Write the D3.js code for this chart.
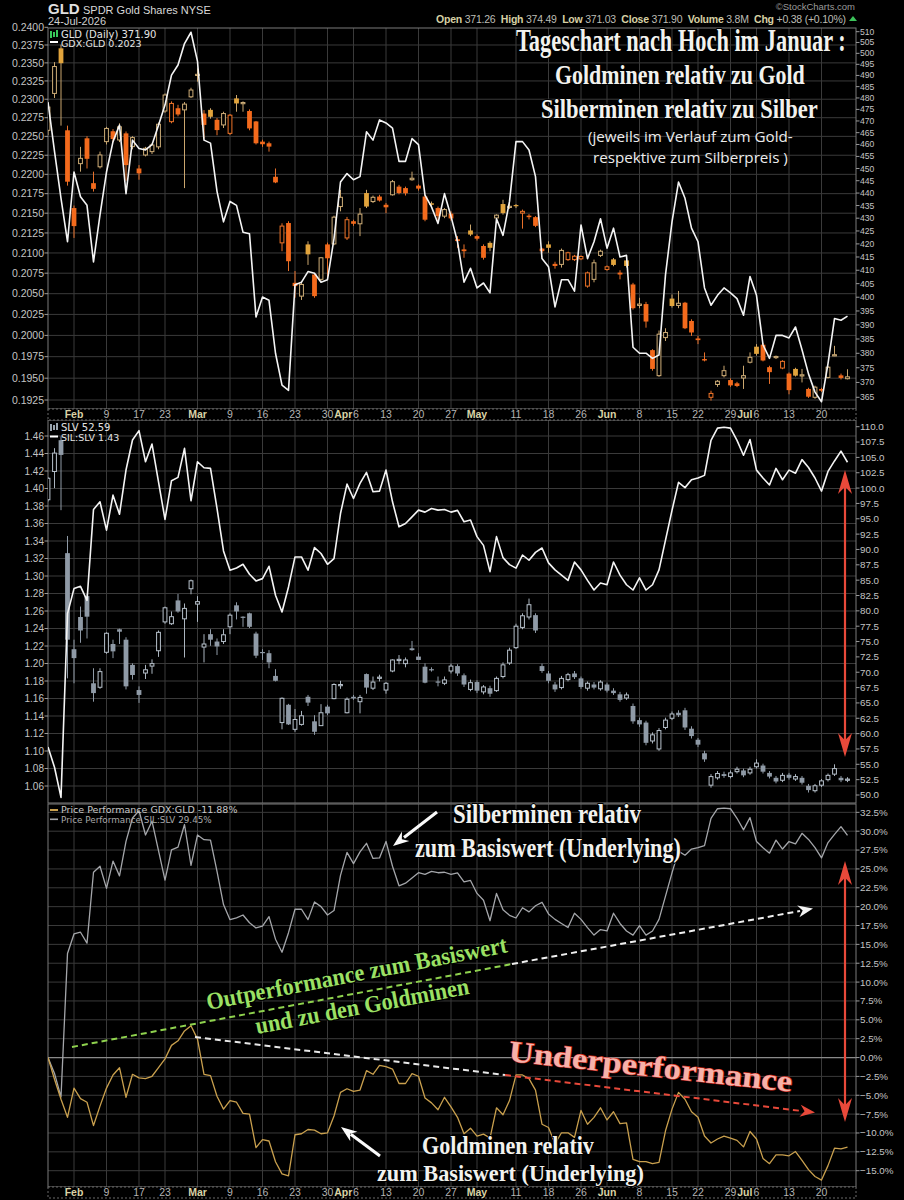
<!DOCTYPE html>
<html><head><meta charset="utf-8">
<script src="https://cdn.jsdelivr.net/npm/d3@7"></script>
<style>body{margin:0;background:#000;}svg{display:block;}</style>
</head><body>
<svg id="c" width="904" height="1200"></svg>
<script>
// ---------------- DATA ----------------
const holidays = ['2026-02-16','2026-04-03','2026-05-25','2026-06-19','2026-07-03'];
const firstDay = '2026-01-27', lastDay = '2026-07-24';

// GDX:GLD ratio (daily close), one value per trading day
const gdxGld = [0.2296,0.2230,0.2169,0.2114,
 0.2203,0.2171,0.2160,0.2089,0.2148,0.2203,0.2243,0.2265,0.2175,0.2245,0.2234,0.2232,0.2239,0.2265,0.2292,0.2333,0.2347,0.2377,0.2393,
 0.2352,0.2245,0.2241,0.2178,0.2139,0.2165,0.2160,0.2126,0.2124,0.2022,0.2046,0.2042,0.1979,0.1942,0.1936,0.2061,0.2064,0.2077,0.2075,
 0.2064,0.2067,0.2118,0.2190,0.2201,0.2193,0.2197,0.2256,0.2245,0.2272,0.2268,0.2261,0.2217,0.2217,0.2247,0.2239,0.2173,0.2158,0.2137,
 0.2175,0.2146,0.2114,0.2064,0.2081,0.2057,0.2063,0.2051,0.2143,0.2122,0.2165,0.2243,0.2243,0.2232,0.2197,0.2093,0.2083,0.2034,0.2067,
 0.2067,0.2053,0.2135,0.2093,0.2114,0.2143,0.2106,0.2131,0.2095,0.2097,0.1986,0.1979,0.1979,0.1973,0.1977,0.2073,0.2139,0.2190,0.2169,
 0.2131,0.2114,0.2057,0.2036,0.2048,0.2057,0.2051,0.2044,0.2024,0.2071,0.2048,0.1989,0.1973,0.2000,0.2000,0.1997,0.2010,0.1983,0.1955,
 0.1934,0.1923,0.1967,0.2020,0.2018,0.2023];

// SIL:SLV ratio (daily close)
const silSlv = [1.1047,1.0814,1.047,1.257,
 1.2856,1.2882,1.2722,1.376,1.3848,1.3524,1.3924,1.3707,1.4211,1.4554,1.4661,1.4306,1.4508,1.4077,1.3646,1.4089,1.4127,1.4459,1.386,
 1.4306,1.4237,1.423,1.3772,1.3287,1.3066,1.3092,1.3134,1.302,1.2944,1.297,1.3111,1.278,1.2589,1.2875,1.3218,1.3218,1.3066,1.3325,
 1.3257,1.3134,1.3199,1.3714,1.405,1.3886,1.4058,1.4184,1.3963,1.397,1.4211,1.3848,1.3562,1.36,1.3676,1.3753,1.373,1.3772,1.3753,
 1.376,1.373,1.375,1.362,1.364,1.345,1.335,1.305,1.345,1.321,1.313,1.309,1.324,1.318,1.327,1.332,1.315,1.307,1.301,
 1.295,1.316,1.307,1.295,1.284,1.292,1.290,1.316,1.301,1.290,1.284,1.298,1.284,1.290,1.307,1.341,1.375,1.407,1.401,
 1.410,1.412,1.415,1.455,1.469,1.470,1.469,1.455,1.438,1.456,1.421,1.412,1.404,1.423,1.410,1.421,1.4175,1.433,1.424,
 1.412,1.397,1.4195,1.4315,1.4427,1.43];

// GLD daily candles [open, high, low, close]
const gldOHLC = [
[466,478,464,476],[482,496,480,494],[502.3,504,468,495.5],[466,468,443,444.6],
[434,435,422.3,426.9],[452,459,448.7,454.2],[462.6,463.5,450,454],[444,448.7,440.6,441.7],[450.7,457,450,455.6],
[461.2,467.5,460,466.8],[465.6,466.5,461,462.3],[461.9,469,461,467.5],[464.7,465.5,445,451.4],[459.1,463.5,458,462.9],
[450,451.4,445.4,448],[455.6,459,455,458.4],[457,460.5,456,459.8],[459,469.3,458,468.6],[474.3,482,473.5,481.3],
[469.7,478.5,469,477.6],[475.5,477,472,472.8],[474.8,478.2,442,477.3],[480.5,484.5,480,483.5],[490.2,493.2,487.2,490.5],
[473.2,474.7,462.6,468.3],[474.8,475.5,471,471.8],[470.5,471.3,463.9,466.1],[468.3,474,467,473.2],[464.7,473,464,472.5],
[479.8,481.3,474,477.6],[477.5,478.5,474,478],[474.3,475,466,466.8],[469.8,470,460,460.5],[461.2,462,459,460.1],
[460.5,461.2,457,459.1],[446.6,450,444,444.3],[420.4,428,417.2,426.9],[428.1,428.8,409.7,413.4],[405.3,409.7,399.8,404.1],
[400.4,405.3,399,404.7],[419.8,421,412,416],[408.4,409,399.8,400.4],[406.6,415,406,414.7],[419.8,420.5,407.2,414.5],
[420,431,419.5,430.4],[434.6,441.3,432.7,438.3],[422.3,430.5,421.5,429.4],[428.8,429.4,427,427.8],[427.8,434,423,431.6],
[440,441.3,434,434.6],[436.6,439,436,438.3],[438.6,439.3,436.6,437],[435.3,436,432,434.3],[439.3,445.3,439,444.6],
[442.6,443.3,439.5,440],[442,442.6,439,439.9],[445.4,448.7,445,446],[443,443.5,441,441.8],[438.6,439.3,428.8,429.4],
[435.9,436.6,434.6,435.3],[434,434.6,428.1,430.8],[430.8,434,430,433.4],[431.8,432.7,429,429.9],[421.8,423,418.5,421.1],
[417.9,419.8,414.7,417.2],[425.2,427.5,423,423.6],[423,423.6,421.3,422],[419.2,419.8,414,414.7],[420.4,421,417.2,418.5],
[430.1,431.5,429.6,431.2],[435.6,437.3,431.4,432],[434.3,436,433.7,434.7],[435.2,435.6,434,434.8],[432,433.4,425.9,432.7],
[431,431.6,429.5,430.4],[430.4,430.8,426.5,427],[418.2,418.5,416.5,417.2],[419.8,421,416.6,418.5],[412.4,413.2,410.6,411.6],
[412.2,418.2,411,417.5],[414,417,413.5,416.6],[414,415.8,413.5,415.3],[414.3,415.6,413.8,415.2],[404.1,409.5,403.5,409],
[406.6,414,405.5,412.8],[415.6,417.8,415,417.2],[410.3,411.8,409.8,411.3],[414.1,414.6,411.5,412],[409.1,410,406.6,408.4],
[413.7,414.2,411,411.6],[404.7,405.3,395.5,396],[397,399.8,396,397.5],[397.5,398.3,389,391.2],[381.1,381.4,374,374.6],
[372.3,388,371.9,386.7],[385.5,388.8,384.3,387.3],[399.5,401,396.2,396.8],[397,402.3,396,397.8],[398,398.3,388.5,388.8],
[391.4,392,386.1,387.3],[385.2,386.1,383.2,384.6],[378,380.3,377.2,377.5],[365,367.2,363.9,366.3],[369.3,370.8,368.5,370.4],
[372.3,375.7,371.7,374],[370.8,371.4,368.5,369],[369.7,370.2,368.4,368.8],[371.5,375.7,367.8,372.3],[376.9,380.3,376.5,378.6],
[382.3,383.2,379.2,379.8],[383,383.5,377.2,377.5],[375.2,375.7,369.5,373.5],[378.5,379.2,378,378.9],[374.9,377.6,374.5,377.2],
[373,373.4,366,367.4],[374.6,375,372,372.3],[372.3,374.6,370,372.6],[367.8,368.2,364.8,365.2],[365,368.9,364.5,368.4],
[367.8,368.2,366.8,367.2],[371.7,375.6,371.3,375.2],[379.2,382.6,379,379.5],[372.4,373,371,371.52],[371.26,374.49,371.03,371.9]];

// SLV daily candles [open, high, low, close]
const slvOHLC = [
[98.1,101.8,97.8,101.6],[102.7,106.5,100,105.7],[107.8,108.4,96.4,105.4],[89.4,92.2,69,75.3],
[73.75,75.3,68.2,72.3],[79,80.7,74.8,76.8],[82.4,82.75,75.5,79.05],[68.2,70.65,65.2,66.6],[67.55,70.65,67.3,70.1],
[73.25,76.5,73,76.35],[74.6,75.3,72.3,73.4],[77,77.1,74.6,76.6],[75.3,75.7,67.2,67.7],[71.2,71.45,68.8,69.55],
[67.1,67.7,65,66.3],[69.87,71.2,68.9,70.4],[71,72.1,69.75,71.4],[73.5,76.8,72.5,76.5],[78.2,80.7,77.9,80.5],
[77.9,79.9,77.7,79.05],[81.7,82.75,79.7,79.9],[78.7,81.2,72.4,80.4],[83.6,85.1,82.7,84.9],[81.1,82.4,78.2,81.5],
[74.1,76.2,71.6,74.6],[76.2,77,74.3,75.3],[75,75.5,72.8,74.2],[75,77,74.6,76.1],[77.4,79.6,76.2,79.3],
[80.9,81.4,78.6,79.9],[79.05,79.1,77.4,78.9],[79.6,79.7,77.2,77.4],[76.3,76.6,72.3,72.7],[73.3,73.75,72,73.1],
[73.1,73.6,70.65,71.6],[69.4,70.5,68.5,68.6],[61.8,65.9,60.7,65.75],[64.7,64.85,61.4,61.5],[60.7,64,60.3,62.3],
[61.5,63.7,61.3,62.9],[66,66.3,64.5,65.05],[62,63,59.8,60.3],[61.3,64.8,61.3,63.4],[64.4,64.7,63,63.3],
[65.7,68.2,65.6,68],[67.8,68.6,67.3,68.0],[63.4,65.9,63.3,65.6],[66,66.3,65.5,65.75],[65.2,66.3,63.3,65.9],
[69.7,69.8,66.5,67.5],[67.4,69.3,67.1,68.4],[69,69.6,68.5,69.2],[67.1,68.4,66.5,68.2],[70.2,72.1,70,72],
[71.9,72.8,71.3,72.1],[71.4,72.4,70.8,72],[73.9,75.1,73.5,73.6],[72.55,73.1,72,72],[70.9,71.45,68.2,68.3],
[70.5,70.8,70.1,70.3],[68.5,69.3,67.7,68.3],[68.2,69.3,67.9,68.75],[70.2,71.4,69.8,71.0],[71.0,71.3,69.4,69.8],
[69.5,69.8,67.6,68.0],[67.2,68.8,66.9,68.3],[68.4,68.7,66.6,67.0],[66.8,67.9,66.4,67.6],[67.4,67.8,66.0,66.5],
[67.0,69.3,66.8,69.0],[69.3,71.6,69.0,71.2],[71.5,74.0,71.2,73.6],[74.0,77.9,73.8,77.5],[77.3,79.6,77.0,79.2],
[79.0,82.0,78.6,81.0],[79.3,79.6,76.4,76.8],[71.0,71.4,69.9,70.2],[69.8,70.2,68.2,68.6],[68.0,68.4,66.8,67.2],
[67.5,69.4,67.2,69.0],[68.8,69.9,68.5,69.6],[69.8,70.2,68.9,69.2],[69.0,69.3,67.3,67.6],[67.4,68.5,67.0,68.2],
[68.0,68.4,67.2,67.5],[67.3,68.7,67.0,68.4],[68.0,68.3,66.7,67.0],[67.0,67.4,66.3,66.6],[66.4,66.8,65.2,65.5],
[65.8,66.7,65.5,66.3],[64.5,64.9,61.6,62.0],[62.2,62.6,61.1,61.5],[61.8,62.1,58.1,58.5],[58.8,60.2,58.4,59.8],
[57.5,60.9,57.2,60.5],[61.0,62.6,60.7,62.2],[62.5,63.6,62.2,63.2],[63.4,63.8,62.7,63.0],[63.8,64.2,60.6,61.0],
[60.8,61.2,59.2,59.6],[59.0,59.3,57.8,58.2],[56.8,57.2,55.4,55.8],[51.6,53.4,51.2,53.0],[52.8,53.9,52.5,53.5],
[53.4,53.8,52.8,53.1],[53.0,54.0,52.7,53.6],[53.8,54.6,53.5,54.2],[54.0,54.3,52.9,53.2],[53.6,54.6,53.3,54.2],
[54.6,55.8,54.3,55.2],[54.8,55.1,53.5,53.8],[53.6,53.9,52.7,53.0],[52.8,53.1,51.9,52.2],[52.4,53.6,52.1,53.2],
[53.3,53.6,52.5,52.8],[52.6,53.4,52.3,53.0],[52.8,53.1,51.7,52.0],[51.5,51.8,50.4,50.8],[50.7,51.8,50.4,51.5],
[51.6,52.6,51.3,52.3],[52.5,53.5,52.2,53.2],[53.4,55.0,53.1,54.3],[52.8,53.1,52.1,52.4],[52.4,52.9,52.1,52.59]];

// tick labels
const p1LeftTicks = [0.1925,0.1950,0.1975,0.2000,0.2025,0.2050,0.2075,0.2100,0.2125,0.2150,0.2175,0.2200,0.2225,0.2250,0.2275,0.2300,0.2325,0.2350,0.2375,0.2400];
const p1RightTicks = [365,370,375,380,385,390,395,400,405,410,415,420,425,430,435,440,445,450,455,460,465,470,475,480,485,490,495,500,505,510];
const p2LeftTicks = [1.06,1.08,1.10,1.12,1.14,1.16,1.18,1.20,1.22,1.24,1.26,1.28,1.30,1.32,1.34,1.36,1.38,1.40,1.42,1.44,1.46];
const p2RightTicks = [50,52.5,55,57.5,60,62.5,65,67.5,70,72.5,75,77.5,80,82.5,85,87.5,90,92.5,95,97.5,100,102.5,105,107.5,110];
const p3Ticks = [-15,-12.5,-10,-7.5,-5,-2.5,0,2.5,5,7.5,10,12.5,15,17.5,20,22.5,25,27.5,30,32.5];
const xTicks = [
 ['2026-02-02','Feb',1],['2026-02-09','9',0],['2026-02-17','17',0],['2026-02-23','23',0],
 ['2026-03-02','Mar',1],['2026-03-09','9',0],['2026-03-16','16',0],['2026-03-23','23',0],['2026-03-30','30',0],
 ['2026-04-01','Apr',1],['2026-04-06','6',0],['2026-04-13','13',0],['2026-04-20','20',0],['2026-04-27','27',0],
 ['2026-05-01','May',1],['2026-05-11','11',0],['2026-05-18','18',0],['2026-05-26','26',0],
 ['2026-06-01','Jun',1],['2026-06-08','8',0],['2026-06-15','15',0],['2026-06-22','22',0],['2026-06-29','29',0],
 ['2026-07-01','Jul',1],['2026-07-06','6',0],['2026-07-13','13',0],['2026-07-20','20',0]];

// ---------------- BUILD ----------------
function tradingDays(a,b){const out=[];const d=new Date(a+'T12:00:00Z');const e=new Date(b+'T12:00:00Z');
 while(d<=e){const wd=d.getUTCDay();const s=d.toISOString().slice(0,10);if(wd>0&&wd<6&&!holidays.includes(s))out.push(s);d.setUTCDate(d.getUTCDate()+1);}return out;}
const dates = tradingDays(firstDay,lastDay);

const svg = d3.select('#c');
const W=904, L=48, R=856;
const P1={top:28,bot:409}, P2={top:420,bot:803}, P3={top:804,bot:1187};
const x = d3.scalePoint().domain(dates).range([48,847.5]);
const y1L = d3.scaleLog().domain([0.2400,0.1925]).range([27.3,400]);
const y1R = d3.scaleLog().domain([510,365]).range([31.7,397.3]);
const y2L = d3.scaleLinear().domain([1.46,1.06]).range([436,786]);
const y2R = d3.scaleLinear().domain([110,50]).range([426.7,795]);
const y3  = d3.scaleLinear().domain([30,-15]).range([831.2,1170.7]);

const perfG = gdxGld.map(v=>(v/gdxGld[0]-1)*100);
const perfS = silSlv.map(v=>(v/silSlv[0]-1)*100);

svg.append('rect').attr('width',W).attr('height',1200).attr('fill','#000');
const defs = svg.append('defs');
[['c1',P1],['c2',P2],['c3',P3]].forEach(([id,p])=>{
 defs.append('clipPath').attr('id',id).append('rect').attr('x',L).attr('y',p.top).attr('width',R-L).attr('height',p.bot-p.top);});

const GRID='#3a3a3a', AX='#c4c4c4', FONT='"Liberation Sans", Arial, sans-serif';

function vgrid(p){
 const g=svg.append('g');
 xTicks.forEach(t=>{
  if(t[2]===1){
   const i=dates.indexOf(t[0]);
   const near=xTicks.some(u=>u[2]===0&&Math.abs(dates.indexOf(u[0])-i)<=2);
   if(near) return;}
  g.append('line').attr('x1',x(t[0])).attr('x2',x(t[0])).attr('y1',p.top).attr('y2',p.bot).attr('stroke',GRID).attr('stroke-width',1);
 });
}
function hgrid(p,ticks,sc){
 const g=svg.append('g');
 ticks.forEach(v=>{const yy=sc(v); if(yy<p.top||yy>p.bot)return;
  g.append('line').attr('x1',L).attr('x2',R).attr('y1',yy).attr('y2',yy).attr('stroke',GRID);});
}
vgrid(P1);vgrid(P2);vgrid(P3);
hgrid(P1,p1LeftTicks,y1L);hgrid(P2,p2LeftTicks,y2L);hgrid(P3,p3Ticks,y3);
svg.append('line').attr('x1',L).attr('x2',R).attr('y1',y3(0)).attr('y2',y3(0)).attr('stroke','#8a8a8a').attr('stroke-width',1.2);

[P1,P2,P3].forEach(p=>svg.append('rect').attr('x',L).attr('y',p.top).attr('width',R-L).attr('height',p.bot-p.top)
 .attr('fill','none').attr('stroke','#7a7a7a').attr('stroke-width',1));

function leftAxis(ticks,sc,fmt,p,fs){
 const g=svg.append('g').attr('font-family',FONT).attr('font-size',fs).attr('fill',AX);
 ticks.forEach(v=>{const yy=sc(v); if(yy<p.top-2||yy>p.bot+2)return;
  g.append('text').attr('x',44).attr('y',yy+fs*0.35).attr('text-anchor','end').text(fmt(v));
  g.append('line').attr('x1',44.5).attr('x2',L).attr('y1',yy).attr('y2',yy).attr('stroke','#999');});
}
function rightAxis(ticks,sc,fmt,p,fs){
 const g=svg.append('g').attr('font-family',FONT).attr('font-size',fs).attr('fill',AX);
 ticks.forEach(v=>{const yy=sc(v); if(yy<p.top-6||yy>p.bot+2)return;
  g.append('text').attr('x',860).attr('y',yy+fs*0.35).attr('text-anchor','start').text(fmt(v));
  g.append('line').attr('x1',R).attr('x2',R+3.5).attr('y1',yy).attr('y2',yy).attr('stroke','#999');});
}
leftAxis(p1LeftTicks,y1L,d3.format('.4f'),P1,10.5);
rightAxis(p1RightTicks,y1R,d3.format('d'),P1,8.6);
leftAxis(p2LeftTicks,y2L,d3.format('.2f'),P2,10);
rightAxis(p2RightTicks,y2R,d3.format('.1f'),P2,9.8);
rightAxis(p3Ticks,y3,v=>d3.format('.1f')(v)+'%',P3,9.8);

function dateBand(top,bot){
 svg.append('rect').attr('x',L).attr('y',top).attr('width',R-L).attr('height',bot-top).attr('fill','#000')
  .attr('stroke','#6a6a6a').attr('stroke-dasharray','2,2');
 const g=svg.append('g').attr('font-family',FONT).attr('font-size',10.5);
 let prevRight=-1e9;
 xTicks.forEach(t=>{
  const txt=g.append('text').attr('y',bot-2).attr('fill',t[2]?'#d9d3a6':'#b4b4b4').attr('font-weight',t[2]?'bold':'normal').text(t[1]);
  const w=txt.node().getComputedTextLength();
  let x0=x(t[0])-w/2;
  if(x0<prevRight+0.8) x0=prevRight+0.8;
  txt.attr('x',x0);
  prevRight=x0+w;
 });
}
dateBand(409,420);
dateBand(1187,1198);

function candles(data,ys,clip,style){
 const g=svg.append('g').attr('clip-path',`url(#${clip})`);
 const bw=4.8;
 data.forEach((d,i)=>{
  const [o,h,l,c]=d; const prev=i>0?data[i-1][3]:o;
  const up=c>=prev; const hollow=c>=o;
  const col=style(up,hollow);
  const cx=x(dates[i]);
  const yt=ys(Math.max(o,c)), yb=ys(Math.min(o,c));
  g.append('line').attr('x1',cx).attr('x2',cx).attr('y1',ys(h)).attr('y2',ys(l)).attr('stroke',col.wick).attr('stroke-width',1);
  const hh=Math.max(yb-yt,1.2);
  if(hollow){
   g.append('rect').attr('x',cx-bw/2+0.5).attr('y',yt).attr('width',bw-1).attr('height',hh).attr('fill','#000').attr('stroke',col.stroke).attr('stroke-width',1);
  } else {
   g.append('rect').attr('x',cx-bw/2).attr('y',yt).attr('width',bw).attr('height',hh).attr('fill',col.fill);
  }
 });
}
candles(gldOHLC,y1R,'c1',(up)=>up?{wick:'#caa66e',stroke:'#cfae78',fill:'#e2a43c'}:{wick:'#e8702a',stroke:'#ef7428',fill:'#f36a1c'});
candles(slvOHLC,y2R,'c2',(up,hollow)=>hollow?{wick:'#aab4be',stroke:'#b8c2cc',fill:'#8f9aa6'}:{wick:'#8f9aa6',stroke:'#b8c2cc',fill:'#8f9aa6'});

function line(vals,ys,clip,col,w){
 const gen=d3.line().x((v,i)=>x(dates[i])).y(v=>ys(v));
 svg.append('path').attr('clip-path',`url(#${clip})`).attr('d',gen(vals)).attr('fill','none').attr('stroke',col).attr('stroke-width',w).attr('stroke-linejoin','round');
}
line(gdxGld,y1L,'c1','#f4f4f4',1.6);
line(silSlv,y2L,'c2','#f4f4f4',1.6);
line(perfS,y3,'c3','#a4a6aa',1.3);
line(perfG,y3,'c3','#c9a04e',1.3);

const hd=svg.append('g').attr('font-family',FONT);
hd.append('text').attr('x',48).attr('y',14).attr('font-size',15).attr('font-weight','bold').attr('fill','#e0e0e0').text('GLD');
hd.append('text').attr('x',83).attr('y',13.5).attr('font-size',11).attr('fill','#d8d8d8').text('SPDR Gold Shares NYSE');
hd.append('text').attr('x',48).attr('y',25).attr('font-size',11).attr('fill','#d0d0d0').text('24-Jul-2026');
hd.append('text').attr('x',855).attr('y',10).attr('font-size',9.5).attr('text-anchor','end').attr('fill','#9a9a9a').text('©StockCharts.com');
const ohlc=hd.append('text').attr('x',436).attr('y',22.5).attr('font-size',10.5);
[['Open ',1],['371.26  ',0],['High ',1],['374.49  ',0],['Low ',1],['371.03  ',0],['Close ',1],['371.90  ',0],['Volume ',1],['3.8M  ',0],['Chg ',1],['+0.38 (+0.10%)',0]]
 .forEach(([t,b])=>ohlc.append('tspan').attr('fill',b?'#d6d0a4':'#bdbdb5').attr('font-weight',b?'bold':'normal').attr('xml:space','preserve').text(t));
ohlc.attr('textLength',410).attr('lengthAdjust','spacing');
hd.append('path').attr('d','M849,21 L853,16 L857,21 Z').attr('fill','#3cc35a');

const lg=svg.append('g').attr('font-family','"DejaVu Sans", sans-serif').attr('font-size',10).attr('fill','#e4e4e4');
function icon(x0,y0,col){lg.append('rect').attr('x',x0).attr('y',y0-7).attr('width',2).attr('height',7).attr('fill',col);
 lg.append('rect').attr('x',x0+3).attr('y',y0-6).attr('width',2).attr('height',5).attr('fill',col);
 lg.append('rect').attr('x',x0+6).attr('y',y0-8).attr('width',2).attr('height',7).attr('fill',col);}
icon(50,38,'#38c85a');
lg.append('text').attr('x',61).attr('y',37.5).text('GLD (Daily) 371.90');
lg.append('rect').attr('x',50).attr('y',41).attr('width',8).attr('height',2).attr('fill','#fff');
lg.append('text').attr('x',61).attr('y',46.5).attr('font-size',9.5).text('GDX:GLD 0.2023');
icon(50,431,'#9aa4ae');
lg.append('text').attr('x',61).attr('y',431).text('SLV 52.59');
lg.append('rect').attr('x',50).attr('y',435.5).attr('width',8).attr('height',2).attr('fill','#fff');
lg.append('text').attr('x',61).attr('y',440.5).attr('font-size',9.5).text('SIL:SLV 1.43');
lg.append('rect').attr('x',50).attr('y',809).attr('width',8).attr('height',2).attr('fill','#c9a04e');
lg.append('text').attr('x',61).attr('y',813).attr('font-size',9.5).attr('fill','#c8c8c8').text('Price Performance GDX:GLD -11.88%');
lg.append('rect').attr('x',50).attr('y',818.5).attr('width',8).attr('height',1.6).attr('fill','#a4a6aa');
lg.append('text').attr('x',61).attr('y',823).attr('font-size',8.8).attr('fill','#a8a8a8').text('Price Performance SIL:SLV 29.45%');

const SERIF='"Liberation Serif","DejaVu Serif",serif', SANS='"Open Sans","Noto Sans",sans-serif';
const an=svg.append('g');
function ttl(t,x0,y0,len,fs,col,opt={}){
 const g=an.append('g');
 const e=g.append('text').attr('x',0).attr('y',0).attr('font-family',opt.fam||SERIF).attr('font-size',fs)
  .attr('font-weight',opt.w||'bold').attr('fill',col)
  .attr('stroke',opt.stroke||'#000').attr('stroke-width',opt.sw===undefined?2:opt.sw).attr('paint-order','stroke').text(t);
 const nat=e.node().getComputedTextLength();
 const sx=len/nat;
 g.attr('transform',`translate(${x0},${y0}) rotate(${opt.rot||0}) scale(${sx},1)`);
 return e;}
ttl('Tageschart nach Hoch im  Januar :',516,51,330,31,'#f2f2ee');
ttl('Goldminen relativ zu Gold',555,84,250,28,'#f2f2ee');
ttl('Silberminen relativ zu Silber',541,118,277,28,'#f2f2ee');
ttl('(jeweils im Verlauf zum Gold-',588,142,205,15,'#ececec',{fam:SANS,w:'normal',sw:0});
ttl('respektive zum Silberpreis )',593,163,195,15,'#ececec',{fam:SANS,w:'normal',sw:0});

function dash(x1,y1,x2,y2,col){an.append('line').attr('x1',x1).attr('y1',y1).attr('x2',x2).attr('y2',y2)
 .attr('stroke',col).attr('stroke-width',2).attr('stroke-dasharray','6,4');}
function head(tx,ty,fx,fy,col,len,wd){const a=Math.atan2(ty-fy,tx-fx);const bx=tx-len*Math.cos(a),by=ty-len*Math.sin(a);
 const px=-Math.sin(a)*wd,py=Math.cos(a)*wd;
 an.append('path').attr('d',`M${tx},${ty}L${bx+px},${by+py}L${bx+len*0.3*Math.cos(a)},${by+len*0.3*Math.sin(a)}L${bx-px},${by-py}Z`).attr('fill',col);}
dash(72,1047,512,964,'#8fd24e');
dash(512,964,800,911,'#f0f0f0'); head(813,908.5,800,911,'#f4f4f4',15,6);
dash(195,1037,505,1075,'#e8e8e8');
dash(505,1075,802,1111,'#e8493a'); head(815,1112.5,802,1111,'#e8493a',15,6);

ttl('Outperformance zum Basiswert',208,1010,306,24,'#9be064',{rot:-10.9,sw:2.5});
ttl('und zu den Goldminen',257,1034,217,24,'#9be064',{rot:-10.7,sw:2.5});
ttl('Underperformance',508,1061,285,30,'#f6b2aa',{rot:6.2,stroke:'#c8281c',sw:1.2});

ttl('Silberminen relativ',453,823,188,27,'#f2f2ee');
ttl('zum Basiswert (Underlying)',415,857,266,27,'#f2f2ee');
ttl('Goldminen relativ',422,1154,172,26,'#f2f2ee');
ttl('zum Basiswert (Underlying)',377,1181,267,24,'#f2f2ee');

function arrow(fx,fy,tx,ty,col,w){an.append('line').attr('x1',fx).attr('y1',fy).attr('x2',tx+(fx-tx)*0.25).attr('y2',ty+(fy-ty)*0.25).attr('stroke',col).attr('stroke-width',w);
 head(tx,ty,fx,fy,col,16,6);}
arrow(437,812,393,846,'#fafafa',3);
arrow(380,1156,341,1127,'#fafafa',3);

function dbl(xx,y1,y2){an.append('line').attr('x1',xx).attr('x2',xx).attr('y1',y1+12).attr('y2',y2-12).attr('stroke','#e8493a').attr('stroke-width',2.2);
 head(xx,y1,xx,y2,'#e8493a',24,7); head(xx,y2,xx,y1,'#e8493a',24,7);}
dbl(845,470,757);
dbl(845,861,1122);
</script>
</body></html>
